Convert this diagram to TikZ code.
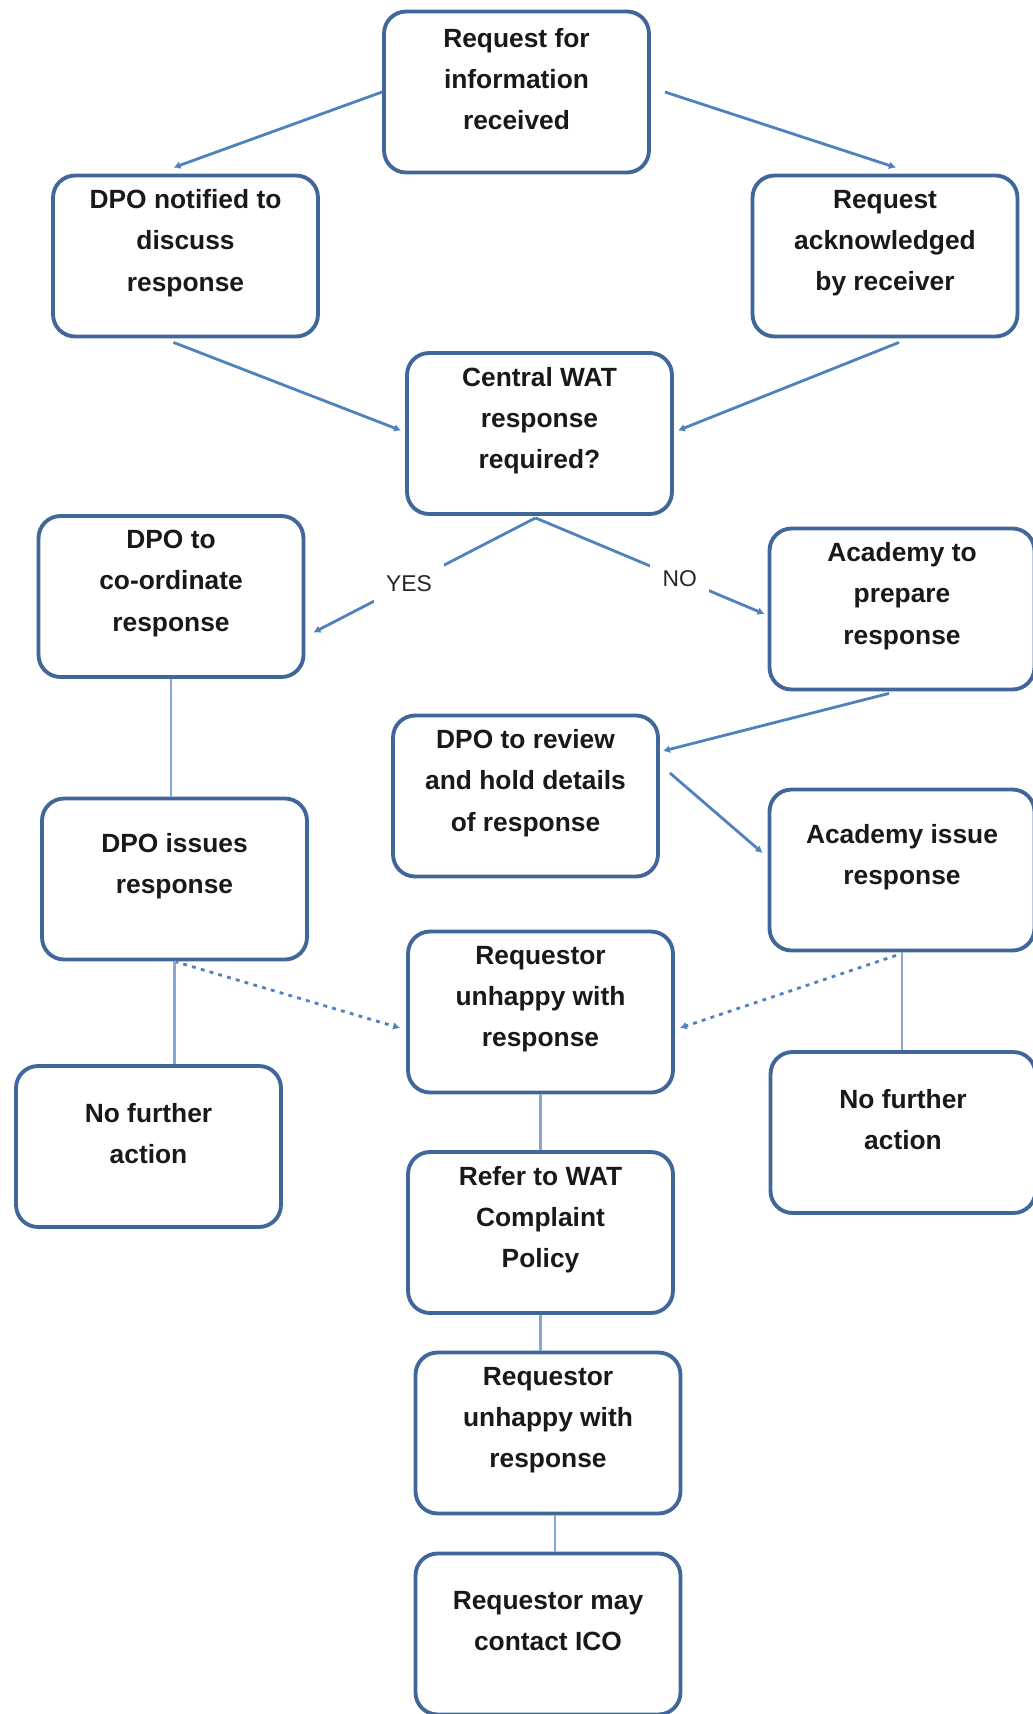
\documentclass[tikz,border=0pt]{standalone}
\usepackage{fontspec}
\setmainfont{Liberation Sans}
\usepackage{tikz}
\usetikzlibrary{calc}
\usetikzlibrary{arrows.meta}
\definecolor{boxblue}{HTML}{41679A}
\definecolor{linkblue}{HTML}{4F81BD}
\definecolor{vlinkblue}{HTML}{86A8D6}
\tikzset{box/.style={draw=boxblue,line width=2.2pt,rounded corners=0.44cm,
    minimum width=5.3cm,minimum height=3.22cm,inner sep=0pt}}
\tikzset{boxtext/.style={align=center,text=black!90,
    font=\bfseries\fontsize{15}{23.5}\selectfont}}
\tikzset{link/.style={draw=linkblue,line width=1.6pt,-{Latex[length=4pt,width=4.5pt]}}}
\tikzset{vlink/.style={draw=vlinkblue,line width=1.6pt}}
\tikzset{dotlink/.style={draw=linkblue,line width=1.6pt,dash pattern=on 2.2pt off 3pt,
    -{Latex[length=4pt,width=4.5pt]}}}
\tikzset{yesno/.style={fill=white,inner sep=7pt,text=black!85,font=\fontsize{13}{15}\selectfont}}

\begin{document}
\begin{tikzpicture}[x=0.02cm,y=-0.02cm]
                \useasboundingbox (0,0) rectangle (1032,1714);
                
                % Boxes
                \node[box] (req) at (516.5,92) {};
                \node[boxtext] (req-t) at (516.5,79) {Request for\\information\\received};
                
                \node[box] (dpon) at (185.5,256) {};
                \node[boxtext] (dpon-t) at (185.5,243) {DPO notified to\\discuss\\response};
                
                \node[box] (ack) at (885,256) {};
                \node[boxtext] (ack-t) at (885,243) {Request\\acknowledged\\by receiver};
                
                \node[box] (central) at (539.5,433.5) {};
                \node[boxtext] (central-t) at (539.5,420.5) {Central WAT\\response\\required?};
                
                \node[box] (dpoc) at (171,596.5) {};
                \node[boxtext] (dpoc-t) at (171,583.5) {DPO to\\co-ordinate\\response};
                
                \node[box] (acprep) at (902,609) {};
                \node[boxtext] (acprep-t) at (902,596) {Academy to\\prepare\\response};
                
                \node[box] (review) at (525.5,796) {};
                \node[boxtext] (review-t) at (525.5,783) {DPO to review\\and hold details\\of response};
                
                \node[box] (dpoi) at (174.5,879) {};
                \node[boxtext] (dpoi-t) at (174.5,866) {DPO issues\\response};
                
                \node[box] (acissue) at (902,870) {};
                \node[boxtext] (acissue-t) at (902,857) {Academy issue\\response};
                
                \node[box] (unh1) at (540.5,1012) {};
                \node[boxtext] (unh1-t) at (540.5,999) {Requestor\\unhappy with\\response};
                
                \node[box] (nfl) at (148.5,1146.5) {};
                \node[boxtext] (nfl-t) at (148.5,1133.5) {No further\\action};
                
                \node[box] (nfr) at (903,1132.5) {};
                \node[boxtext] (nfr-t) at (903,1119.5) {No further\\action};
                
                \node[box] (refer) at (540.5,1232.5) {};
                \node[boxtext] (refer-t) at (540.5,1219.5) {Refer to WAT\\Complaint\\Policy};
                
                \node[box] (unh2) at (548,1433) {};
                \node[boxtext] (unh2-t) at (548,1420) {Requestor\\unhappy with\\response};
                
                \node[box] (ico) at (548,1634) {};
                \node[boxtext] (ico-t) at (548,1621) {Requestor may\\contact ICO};
                
                % Connectors
                \draw[link] (req.west) -- ($(dpon.north)+(-12,-6)$);
                \draw[link] ($(req.east)+(14,0)$) -- ($(ack.north)+(11,-6)$);
                \draw[link] ($(dpon.south)+(-12,4)$) -- ($(central.west)+(-4,-3)$);
                \draw[link] ($(ack.south)+(14,4)$) -- ($(central.east)+(4,-3)$);
                
                \draw[link] ($(central.south)+(-4,2)$) -- node[yesno,pos=0.57] (yes) {YES} ($(dpoc.east)+(8,36)$);
                \draw[link] ($(central.south)+(-4,2)$) -- node[yesno,pos=0.63] (no) {NO} ($(acprep.west)+(-3,5)$);
                
                \draw[vlink] (dpoc.south) -- (dpoc.south |- dpoi.north);
                \draw[link] ($(acprep.south)+(-13,2)$) -- ($(review.east)+(3,-45)$);
                \draw[link] ($(review.east)+(10,-23)$) -- ($(acissue.west)+(-5,-17)$);
                
                % Unhappy paths
                \draw[dotlink] (dpoi.south) -- ($(unh1.west)+(-6,16)$);
                \draw[dotlink] ($(acissue.south)+(-6,3)$) -- ($(unh1.east)+(5,16)$);
                
                \draw[vlink] (dpoi.south) -- (dpoi.south |- nfl.north);
                \draw[vlink] (acissue.south) -- (acissue.south |- nfr.north);
                \draw[vlink] (unh1.south) -- (refer.north);
                \draw[vlink] (refer.south) -- (refer.south |- unh2.north);
                \draw[vlink] ($(unh2.south)+(7,0)$) -- ($(ico.north)+(7,0)$);
            \end{tikzpicture}
\end{document}
